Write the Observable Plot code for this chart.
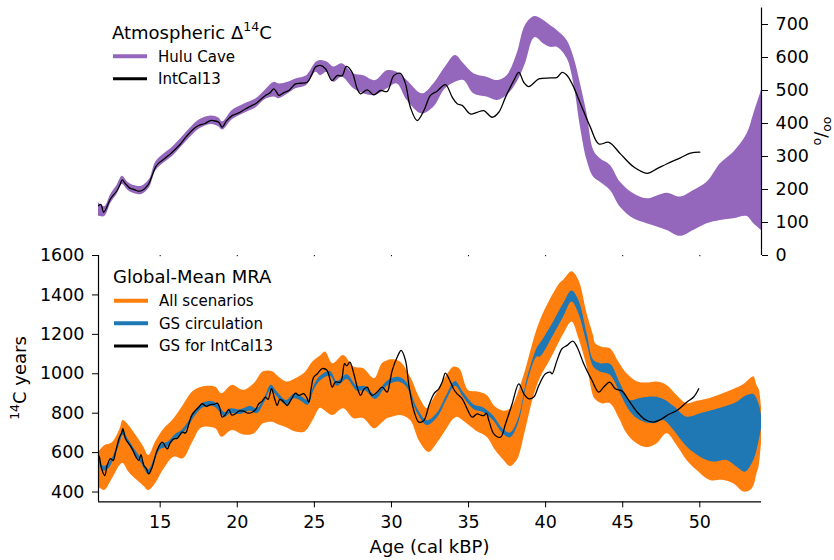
<!DOCTYPE html>
<html><head><meta charset="utf-8">
<script src="https://cdn.jsdelivr.net/npm/d3@7"></script>
<script src="https://cdn.jsdelivr.net/npm/@observablehq/plot@0.6"></script>
<style>
body{margin:0;background:#fff;}
#wrap{position:relative;width:834px;height:560px;font-family:"DejaVu Sans";background:#fff;}
#wrap svg{position:absolute;left:0;top:0;}
</style></head><body><div id="wrap"></div>
<script>
// ---- Top panel: Atmospheric Δ14C ----
const huluAge = [11.0,11.4,11.8,12.2,12.55,12.9,13.3,13.8,14.3,14.7,15.1,15.8,16.3,16.9,17.5,18.3,18.8,19.05,19.7,20.5,21.2,21.8,22.4,22.7,23.3,23.8,24.5,25.1,25.4,25.83,26.26,26.8,27.56,28.2,28.96,29.72,30.37,31.02,31.99,32.74,33.5,34.15,34.69,35.34,36.2,36.86,37.5,38.15,38.69,39.3,39.88,40.31,40.75,41.4,41.83,42.26,42.69,43.12,43.55,44.2,44.85,45.71,46.58,47.88,48.74,49.6,50.47,51.34,52.2,53.07,53.5,54.0];
const huluLo  = [120,118,158,185,215,198,188,185,205,255,275,300,325,355,382,397,390,380,412,432,447,472,480,475,490,505,515,555,545,555,525,540,505,490,485,505,520,470,429,449,505,525,530,490,480,470,485,525,581,660,641,631,631,596,520,389,288,237,222,197,146,111,96,76,58,76,96,106,111,118,96,76];
const huluHi  = [160,148,185,212,240,222,212,210,230,282,302,328,352,383,410,423,417,405,440,460,474,500,525,520,525,535,545,585,591,586,571,581,550,545,530,560,555,530,490,520,571,606,581,551,540,530,545,611,697,724,712,697,682,651,601,520,429,318,293,273,222,187,172,189,177,197,222,278,313,369,429,500];
const intcalAge = [11.0,11.15,11.34,11.78,12.0,12.21,12.4,12.54,12.7,12.86,13.0,13.18,13.4,13.6,13.83,14.05,14.26,14.5,14.7,14.9,15.13,15.45,15.78,16.05,16.32,16.6,16.86,17.2,17.5,17.9,18.26,18.5,18.8,19.02,19.3,19.67,20.1,20.53,20.85,21.18,21.5,21.83,22.1,22.37,22.55,22.69,23.0,23.34,23.55,23.78,24.1,24.53,24.8,25.07,25.4,25.72,26.15,26.47,26.8,27.08,27.45,27.78,27.99,28.43,28.85,29.29,29.72,30.15,30.58,30.91,31.23,31.67,32.1,32.53,32.96,33.5,33.94,34.26,34.59,35.12,35.56,35.99,36.53,36.96,37.4,37.93,38.26,38.58,38.91,39.56,40.31,40.75,41.07,41.35,41.72,42.26,42.9,43.45,44.1,44.85,45.72,46.58,47.23,47.88,48.74,49.39,50.0];
const intcalD14C = [151,155,131,172,185,197,215,229,220,212,205,202,198,195,197,205,217,245,268,280,288,300,313,325,338,355,369,385,394,400,409,408,404,389,408,424,432,444,452,460,472,485,492,505,495,485,493,500,510,520,522,525,545,571,576,566,530,545,545,573,555,505,490,502,487,500,497,545,552,520,449,409,439,485,498,518,480,460,455,429,434,439,419,434,480,530,555,525,512,535,538,540,555,548,520,460,389,338,343,308,268,249,263,278,296,310,313];
const topYTicks = [0,100,200,300,400,500,600,700];

// ---- Bottom panel: Global-Mean MRA ----
const allAge = [11.0,11.4,11.9,12.4,12.6,12.97,13.5,13.94,14.26,14.7,15.2,15.9,16.5,17.1,17.7,18.6,19.0,19.67,20.4,21.1,21.7,22.3,22.7,23.2,23.8,24.4,24.9,25.4,25.72,26.2,26.9,27.56,28.2,28.9,29.4,29.72,30.05,30.6,31.24,31.8,32.32,32.5,33.0,33.6,34.05,34.3,34.5,35.0,35.6,36.2,36.75,37.3,37.72,38.05,38.26,38.7,39.23,39.67,40.3,40.96,41.17,41.71,42.15,42.69,43.12,43.23,43.66,44.2,44.74,45.28,45.93,46.58,47.23,47.87,48.52,49.17,49.82,50.68,51.55,52.2,52.85,53.28,53.5,53.71,53.85,54.0];
const allLo  = [425,408,467,535,545,501,460,430,408,442,510,577,569,650,725,721,678,712,690,695,746,754,740,726,704,705,760,825,810,788,822,772,772,721,750,772,780,788,763,660,605,602,650,720,770,780,770,740,704,678,611,560,529,550,577,712,882,980,1068,1170,1200,1263,1180,1034,882,870,848,848,780,696,645,625,645,696,636,560,509,459,459,442,400,408,430,493,530,650];
const allHi  = [600,635,650,720,763,738,680,627,585,653,715,772,839,907,932,932,899,941,916,950,1010,1010,983,958,975,1005,1060,1090,1110,1051,1093,1034,1025,975,1051,1065,1071,1059,983,882,822,840,907,992,1034,1030,1017,915,907,890,831,810,820,865,910,1017,1169,1271,1375,1460,1474,1517,1474,1305,1190,1153,1135,1127,1060,1000,960,953,958,941,890,848,860,875,900,920,945,975,985,941,920,830];
const gsAge = [11.0,11.3,11.6,12.0,12.4,12.6,12.9,13.3,13.8,14.26,14.6,15.0,15.5,16.0,16.4,16.9,17.3,17.8,18.5,18.9,19.2,19.6,20.2,20.86,21.3,21.8,22.2,22.6,23.2,23.7,24.2,24.6,25.0,25.4,26.05,26.48,27.13,27.78,28.32,28.97,29.72,30.48,31.02,31.67,32.32,32.97,33.61,34.15,34.7,35.34,35.99,36.64,37.18,37.72,38.26,38.8,39.45,39.66,40.52,41.17,41.71,42.15,42.69,43.12,43.55,44.2,44.85,45.5,46.14,47.01,47.66,48.31,49.17,50.04,50.9,51.77,52.42,52.95,53.5,53.82,54.0];
const gsLo = [558,508,514,563,648,688,648,598,543,488,538,613,628,668,688,738,788,828,833,803,778,798,793,811,798,858,918,883,840,873,858,840,918,963,988,937,971,912,912,870,937,958,929,802,738,776,870,937,878,819,802,760,700,675,751,945,1085,1085,1195,1288,1364,1305,1153,1034,1009,992,899,806,763,746,763,713,628,577,552,560,526,501,560,650,720];
const gsHi = [582,532,537,587,672,712,672,622,567,512,562,637,652,692,712,762,812,852,857,827,802,822,817,835,822,882,942,907,864,897,882,864,942,987,1012,961,995,936,936,894,961,982,953,826,762,800,894,961,902,843,826,784,724,699,775,971,1130,1153,1263,1356,1420,1373,1204,1068,1051,1048,950,865,875,882,870,835,780,797,815,835,855,885,895,850,790];
const icAge = [11.0,11.06,11.2,11.41,11.56,11.78,11.95,12.1,12.36,12.5,12.58,12.75,12.97,13.1,13.29,13.45,13.62,13.75,13.94,14.1,14.26,14.48,14.8,15.13,15.46,15.65,15.88,16.1,16.43,16.65,16.86,17.05,17.29,17.5,17.72,18.0,18.26,18.5,18.7,18.85,19.02,19.2,19.45,19.65,19.88,20.1,20.42,20.7,20.97,21.2,21.4,21.6,21.83,22.0,22.22,22.4,22.59,22.75,22.91,23.1,23.24,23.5,23.78,24.0,24.31,24.5,24.64,24.8,24.96,25.2,25.51,25.83,26.0,26.16,26.37,26.7,26.96,27.1,27.3,27.56,27.78,28.0,28.2,28.43,28.6,28.75,29.07,29.4,29.72,29.9,30.05,30.42,30.63,30.91,31.13,31.45,31.78,32.1,32.43,32.75,33.07,33.3,33.5,33.83,34.05,34.26,34.59,34.91,35.24,35.56,35.8,35.99,36.15,36.32,36.64,37.07,37.4,37.83,38.26,38.59,38.91,39.23,39.56,39.99,40.3,40.42,40.74,41.06,41.39,41.76,42.04,42.47,43.01,43.44,43.77,44.16,44.52,44.96,45.39,45.93,46.47,47.01,47.44,47.98,48.52,49.17,49.6,49.93];
const icMRA = [585,577,518,484,535,569,560,602,678,700,721,670,645,630,602,575,560,590,535,520,492,526,611,653,619,650,670,672,704,700,746,790,814,830,848,835,844,845,851,830,780,790,818,790,797,810,810,800,805,820,848,860,882,870,924,880,839,870,865,850,839,870,902,890,899,880,856,930,983,1000,1026,1017,975,932,958,958,1051,1040,1059,1000,932,890,920,932,905,890,907,932,907,960,1017,1093,1119,1068,941,814,755,763,839,898,924,960,1003,958,920,898,873,822,780,797,790,788,800,763,695,678,746,848,949,898,873,882,941,1000,1008,1000,1068,1127,1144,1166,1136,1051,966,907,933,958,924,912,865,806,767,755,767,794,814,857,882,924];
const botYTicks = [400,600,800,1000,1200,1400,1600];
const xTicks = [15,20,25,30,35,40,45,50];

const zip = (a, cols) => a.map((v,i) => Object.fromEntries(Object.entries(cols).map(([k,arr]) => [k, arr[i]])));
const hulu = zip(huluAge, {age: huluAge, lo: huluLo, hi: huluHi});
const intcal = zip(intcalAge, {age: intcalAge, v: intcalD14C});
const allSc = zip(allAge, {age: allAge, lo: allLo, hi: allHi});
const gs = zip(gsAge, {age: gsAge, lo: gsLo, hi: gsHi});
const ic = zip(icAge, {age: icAge, v: icMRA});

const FONT = "DejaVu Sans";
const wrap = document.getElementById("wrap");

const bottomPlot = Plot.plot({
  width: 834, height: 560,
  marginLeft: 98, marginRight: 73, marginTop: 255, marginBottom: 58.6,
  x: {domain: [11, 54]},
  y: {domain: [350, 1600]},
  style: {fontFamily: FONT, fontSize: "17.5px", background: "transparent", color: "#000"},
  marks: [
    Plot.areaY(allSc, {x: "age", y1: "lo", y2: "hi", fill: "#ff7f0e", curve: "catmull-rom"}),
    Plot.areaY(gs, {x: "age", y1: "lo", y2: "hi", fill: "#1f77b4", curve: "catmull-rom"}),
    Plot.line(ic, {x: "age", y: "v", stroke: "#000", strokeWidth: 1.3, curve: "catmull-rom"}),
    Plot.ruleX([11], {stroke: "#000", strokeWidth: 1.2}),
    Plot.ruleY([350], {stroke: "#000", strokeWidth: 1.2}),
    Plot.axisY({ticks: botYTicks, tickSize: 6, tickPadding: 8, label: null, tickFormat: d => String(d)}),
    Plot.axisX({ticks: xTicks, tickSize: 6, tickPadding: 8, label: null})
  ]
});
wrap.appendChild(bottomPlot);

const topPlot = Plot.plot({
  width: 834, height: 275,
  marginLeft: 98, marginRight: 73, marginTop: 7.5, marginBottom: 20,
  x: {domain: [11, 54]},
  y: {domain: [0, 750]},
  style: {fontFamily: FONT, fontSize: "17.5px", background: "transparent", color: "#000", pointerEvents: "none"},
  marks: [
    Plot.areaY(hulu, {x: "age", y1: "lo", y2: "hi", fill: "#9467bd", curve: "catmull-rom"}),
    Plot.line(intcal, {x: "age", y: "v", stroke: "#000", strokeWidth: 1.3, curve: "catmull-rom"}),
    Plot.ruleX([54], {stroke: "#000", strokeWidth: 1.2}),
    Plot.axisY({anchor: "right", ticks: topYTicks, tickSize: 6, tickPadding: 8, label: null}),
    Plot.axisX({ticks: xTicks, tickSize: 1.2, tickFormat: () => "", label: null})
  ]
});
wrap.appendChild(topPlot);

// ---- text overlay: titles, legends, axis labels ----
const svg = d3.select(bottomPlot);
const g = svg.append("g").attr("font-family", FONT).attr("fill", "#000").attr("text-anchor", "start");

function legend(x, titleY, titleParts, items) {
  const t = g.append("text").attr("x", x).attr("y", titleY).attr("font-size", 18).attr("text-anchor", "start");
  titleParts.forEach(p => {
    const s = t.append("tspan").text(p.t);
    if (p.sup) s.attr("font-size", 12.5).attr("dy", -7.5);
    if (p.down) s.attr("dy", 7.5);
  });
  items.forEach((it, i) => {
    const yb = titleY + 23 + i * 22.6;
    g.append("line").attr("x1", x + 1).attr("x2", x + 35).attr("y1", yb - 5.3).attr("y2", yb - 5.3)
      .attr("stroke", it.color).attr("stroke-width", it.w);
    g.append("text").attr("x", x + 46).attr("y", yb).attr("font-size", 15).attr("text-anchor", "start").text(it.label);
  });
}
legend(112, 38.5, [{t: "Atmospheric Δ"}, {t: "14", sup: true}, {t: "C", down: true}],
  [{label: "Hulu Cave", color: "#9467bd", w: 4}, {label: "IntCal13", color: "#000", w: 3}]);
legend(113, 283, [{t: "Global-Mean MRA"}],
  [{label: "All scenarios", color: "#ff7f0e", w: 4}, {label: "GS circulation", color: "#1f77b4", w: 4}, {label: "GS for IntCal13", color: "#000", w: 3}]);

// x label
g.append("text").attr("x", 429.5).attr("y", 553).attr("text-anchor", "middle").attr("font-size", 18).text("Age (cal kBP)");
// bottom y label
const yl = g.append("text").attr("transform", "translate(26,378) rotate(-90)").attr("text-anchor", "middle").attr("font-size", 18);
yl.append("tspan").attr("font-size", 12.5).attr("dy", -7.5).text("14");
yl.append("tspan").attr("dy", 7.5).text("C years");
// top right y label (per mil)
const pl = g.append("text").attr("transform", "translate(827,131) rotate(-90)").attr("text-anchor", "middle").attr("font-size", 17.5);
pl.append("tspan").attr("font-size", 12.5).attr("dy", -6).text("o");
pl.append("tspan").attr("dy", 6).text("/");
pl.append("tspan").attr("font-size", 12.5).attr("dy", 4).text("oo");
</script></body></html>
